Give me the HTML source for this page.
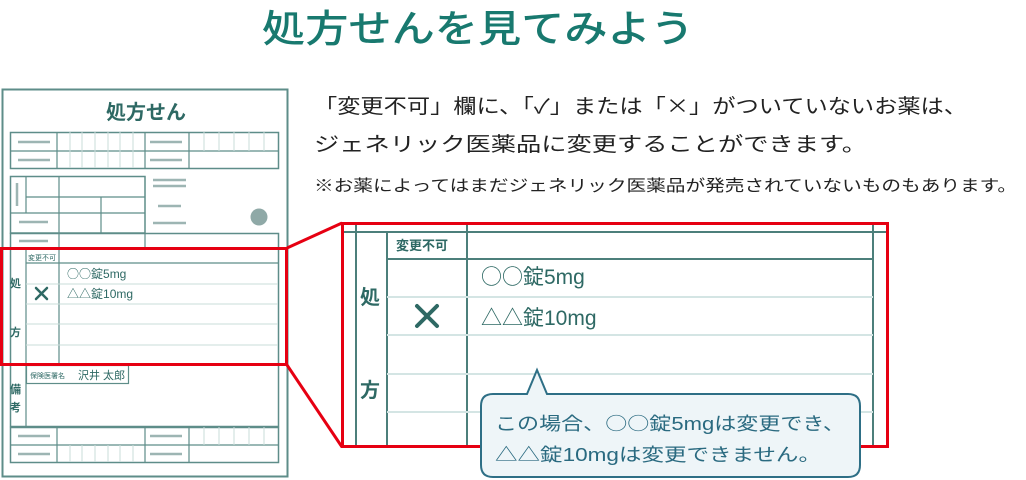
<!DOCTYPE html>
<html><head><meta charset="utf-8"><style>
html,body{margin:0;padding:0;background:#fff;}
svg{display:block;}
text{font-family:"Liberation Sans","Noto Sans CJK JP",sans-serif;}
.j{font-family:"Noto Sans CJK JP",sans-serif;}
</style></head><body>
<svg width="1026" height="480" viewBox="0 0 1026 480" xmlns="http://www.w3.org/2000/svg">
<text x="262" y="42" font-size="38" fill="#18796f" font-weight="500" textLength="432" lengthAdjust="spacingAndGlyphs">処方せんを見てみよう</text>
<g fill="#222" font-size="20">
<text x="314" y="113" textLength="653" lengthAdjust="spacingAndGlyphs">「変更不可」欄に、「<tspan class="j">✓</tspan>」または「<tspan class="j">×</tspan>」がついていないお薬は、</text>
<text x="314" y="151" textLength="553" lengthAdjust="spacingAndGlyphs">ジェネリック医薬品に変更することができます。</text>
<text x="314" y="191" font-size="16" textLength="703" lengthAdjust="spacingAndGlyphs">※お薬によってはまだジェネリック医薬品が発売されていないものもあります。</text>
</g>

<g stroke="#5e8d89" fill="none">
<rect x="2.5" y="89.5" width="285" height="387" stroke-width="2"/>
<rect x="10.5" y="132.5" width="268" height="36" stroke-width="1.5"/>
<line x1="10" y1="151" x2="278" y2="151" stroke-width="1.2"/>
<line x1="57" y1="132" x2="57" y2="168" stroke-width="1.2"/>
<line x1="145" y1="132" x2="145" y2="168" stroke-width="1.2"/>
<line x1="189" y1="132" x2="189" y2="168" stroke-width="1.2"/>
<g stroke="#c9dcda" stroke-width="1">
<line x1="70" y1="132" x2="70" y2="168"/><line x1="82" y1="132" x2="82" y2="168"/><line x1="95" y1="132" x2="95" y2="168"/><line x1="108" y1="132" x2="108" y2="168"/><line x1="120" y1="132" x2="120" y2="168"/><line x1="133" y1="132" x2="133" y2="168"/>
<line x1="204" y1="132" x2="204" y2="151"/><line x1="219" y1="132" x2="219" y2="151"/><line x1="234" y1="132" x2="234" y2="151"/><line x1="249" y1="132" x2="249" y2="151"/><line x1="264" y1="132" x2="264" y2="151"/>
</g>
<rect x="10.5" y="176.5" width="134.5" height="56.5" stroke-width="1.5"/>
<line x1="26" y1="176" x2="26" y2="213" stroke-width="1.2"/>
<line x1="59" y1="176" x2="59" y2="365" stroke-width="1.2"/>
<line x1="26" y1="197" x2="145" y2="197" stroke-width="1.2"/>
<line x1="10" y1="213" x2="145" y2="213" stroke-width="1.2"/>
<line x1="101" y1="197" x2="101" y2="233" stroke-width="1.2"/>
<rect x="10.5" y="233.5" width="268" height="193" stroke-width="1.5"/>
<line x1="26" y1="248" x2="26" y2="427" stroke-width="1.2"/>
<line x1="145" y1="233" x2="145" y2="248" stroke-width="1.2"/>
<line x1="26" y1="263" x2="278" y2="263" stroke-width="1.2"/>
<g stroke="#c9dcda" stroke-width="1">
<line x1="26" y1="284" x2="278" y2="284"/><line x1="26" y1="304" x2="278" y2="304"/><line x1="26" y1="324" x2="278" y2="324"/><line x1="26" y1="345" x2="278" y2="345"/>
</g>
<rect x="26.5" y="365.5" width="102" height="18" stroke-width="1.2"/>
<rect x="10.5" y="427.5" width="268" height="35" stroke-width="1.5"/>
<line x1="10" y1="445" x2="278" y2="445" stroke-width="1.2"/>
<line x1="57" y1="427" x2="57" y2="462" stroke-width="1.2"/>
<line x1="145" y1="427" x2="145" y2="462" stroke-width="1.2"/>
<line x1="189" y1="427" x2="189" y2="462" stroke-width="1.2"/>
<g stroke="#c9dcda" stroke-width="1">
<line x1="70" y1="445" x2="70" y2="462"/><line x1="82" y1="445" x2="82" y2="462"/><line x1="95" y1="445" x2="95" y2="462"/><line x1="108" y1="445" x2="108" y2="462"/><line x1="120" y1="445" x2="120" y2="462"/><line x1="133" y1="445" x2="133" y2="462"/>
<line x1="204" y1="427" x2="204" y2="445"/><line x1="219" y1="427" x2="219" y2="445"/><line x1="234" y1="427" x2="234" y2="445"/><line x1="249" y1="427" x2="249" y2="445"/><line x1="264" y1="427" x2="264" y2="445"/>
</g>
</g>
<g stroke="#9db5b3" stroke-width="2.5">
<line x1="18" y1="142" x2="50" y2="142"/><line x1="18" y1="160" x2="50" y2="160"/>
<line x1="150" y1="142" x2="182" y2="142"/><line x1="150" y1="160" x2="182" y2="160"/>
<line x1="17" y1="183" x2="17" y2="206"/>
<line x1="19" y1="222" x2="48" y2="222"/><line x1="19" y1="241" x2="48" y2="241"/>
<line x1="153" y1="180" x2="186" y2="180"/><line x1="153" y1="186" x2="186" y2="186"/>
<line x1="158" y1="206" x2="181" y2="206"/><line x1="153" y1="223" x2="186" y2="223"/>
<line x1="18" y1="436" x2="50" y2="436"/><line x1="18" y1="454" x2="50" y2="454"/>
<line x1="150" y1="436" x2="182" y2="436"/><line x1="150" y1="454" x2="182" y2="454"/>
</g>
<circle cx="259" cy="217" r="8.5" fill="#8fa9a7"/>
<g fill="#2e6964">
<text x="146" y="119" font-size="20" font-weight="bold" text-anchor="middle">処方せん</text>
<text x="28" y="260" font-size="7">変更不可</text>
<text x="67" y="278" font-size="12"><tspan class="j">○○</tspan>錠5mg</text>
<text x="67" y="298" font-size="12"><tspan class="j">△△</tspan>錠10mg</text>
<text x="10" y="287" font-size="11" font-weight="bold">処</text>
<text x="10" y="336" font-size="11" font-weight="bold">方</text>
<text x="30" y="378" font-size="7">保険医署名</text>
<text x="78" y="379" font-size="11">沢井 太郎</text>
<text x="10" y="393" font-size="11" font-weight="bold">備</text>
<text x="10" y="411" font-size="11" font-weight="bold">考</text>
</g>
<g stroke="#2e6964" stroke-width="2.5" stroke-linecap="round">
<line x1="36" y1="288" x2="47" y2="299"/><line x1="47" y1="288" x2="36" y2="299"/>
</g>

<g stroke="#4c7f7b" fill="none" stroke-width="2">
<line x1="342" y1="232" x2="888" y2="232"/>
<line x1="356" y1="223" x2="356" y2="447"/>
<line x1="387" y1="232" x2="387" y2="447"/>
<line x1="467" y1="223" x2="467" y2="447"/>
<line x1="873" y1="223" x2="873" y2="447"/>
<line x1="387" y1="259" x2="873" y2="259"/>
</g>
<g stroke="#d4e5e4" stroke-width="2">
<line x1="387" y1="297" x2="873" y2="297"/><line x1="387" y1="335" x2="873" y2="335"/>
<line x1="387" y1="374" x2="873" y2="374"/><line x1="387" y1="412" x2="873" y2="412"/>
</g>
<g fill="#2e6964">
<text x="396" y="250" font-size="13" font-weight="bold">変更不可</text>
<text x="360" y="304" font-size="20" font-weight="bold">処</text>
<text x="360" y="397" font-size="20" font-weight="bold">方</text>
<text x="481" y="284" font-size="21"><tspan class="j">○○</tspan>錠5mg</text>
<text x="481" y="325" font-size="21"><tspan class="j">△△</tspan>錠10mg</text>
</g>
<g stroke="#2e6964" stroke-width="4" stroke-linecap="round">
<line x1="417" y1="306" x2="437" y2="326"/><line x1="437" y1="306" x2="417" y2="326"/>
</g>

<g stroke="#e60012" stroke-width="3" fill="none">
<rect x="1.5" y="248.5" width="285" height="116"/>
<rect x="342.5" y="223.5" width="545" height="223"/>
<line x1="287" y1="248" x2="342" y2="223"/>
<line x1="287" y1="365" x2="342" y2="447"/>
</g>

<path d="M493,394 H527 L537,370 L547,394 H848 Q860,394 860,406 V465 Q860,477 848,477 H493 Q481,477 481,465 V406 Q481,394 493,394 Z" fill="#eef5f8" stroke="#2e6f86" stroke-width="2"/>
<g fill="#2a6a80" font-size="18">
<text x="495" y="430" textLength="350" lengthAdjust="spacingAndGlyphs">この場合、<tspan class="j">○○</tspan>錠5mgは変更でき、</text>
<text x="495" y="461" textLength="326" lengthAdjust="spacingAndGlyphs"><tspan class="j">△△</tspan>錠10mgは変更できません。</text>
</g>
</svg>
</body></html>
